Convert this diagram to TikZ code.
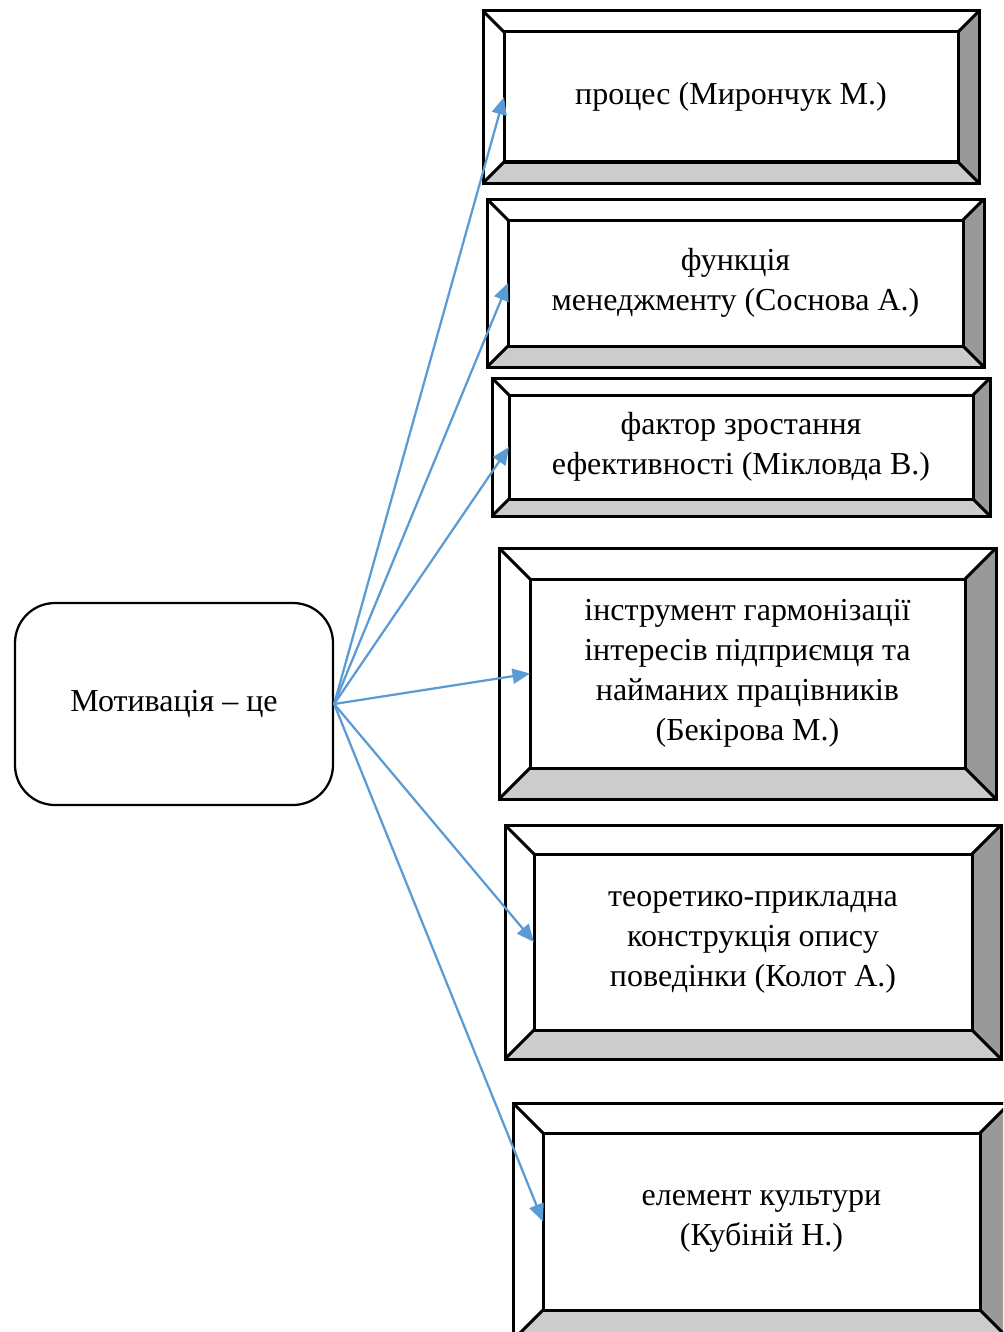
\documentclass[tikz,border=0pt]{standalone}
\usepackage{fontspec}
\setmainfont{Liberation Serif}
\usetikzlibrary{arrows.meta}

\definecolor{bevdark}{HTML}{999999}
\definecolor{bevlight}{HTML}{CCCCCC}
\definecolor{arrowblue}{HTML}{5B9BD5}

% bevelled box: name, x1, y1, x2, y2 (outer corners), bevel width, text
\newcommand\bevbox[7]{%
  \fill[white] (#2,#3) rectangle (#4,#5);
  \fill[bevdark] (#4,#3) -- (#4,#5) -- ({#4-#6},{#5-#6}) -- ({#4-#6},{#3+#6}) -- cycle;
  \fill[bevlight] (#2,#5) -- (#4,#5) -- ({#4-#6},{#5-#6}) -- ({#2+#6},{#5-#6}) -- cycle;
  \draw[boxline] (#2,#3) rectangle (#4,#5);
  \draw[boxline] (#2,#3) -- ({#2+#6},{#3+#6});
  \draw[boxline] (#4,#3) -- ({#4-#6},{#3+#6});
  \draw[boxline] (#2,#5) -- ({#2+#6},{#5-#6});
  \draw[boxline] (#4,#5) -- ({#4-#6},{#5-#6});
  \node[innerbox,
        minimum width={(#4-#2-2*#6)*0.4pt},
        minimum height={(#5-#3-2*#6)*0.4pt}]
    (#1) at ({(#2+#4)/2},{(#3+#5)/2}) {#7};
}

\begin{document}
\begin{tikzpicture}[x=0.4pt,y=-0.4pt,
  boxline/.style={line width=1.2pt,line join=miter},
  innerbox/.style={draw,line width=1.2pt,inner sep=0pt,outer sep=0pt,
    align=center,font=\fontsize{12.8pt}{16pt}\selectfont},
  mainbox/.style={draw,line width=0.9pt,rounded corners=16pt,
    minimum width=127.2pt,minimum height=80.8pt,
    font=\fontsize{12.8pt}{16pt}\selectfont},
  link/.style={draw=arrowblue,line width=0.9pt,
    -{Triangle[length=7pt,width=6pt]}}]

\useasboundingbox (0,0) rectangle (1003,1332);
\clip (0,0) rectangle (1003,1332);

\node[mainbox] (mot) at (174,704) {Мотивація – це};

\bevbox{b1}{483}{11}{979}{183}{21}{процес (Мирончук М.)}
\bevbox{b2}{487}{199}{984}{367}{21}{функція\\менеджменту (Соснова А.)}
\bevbox{b3}{492}{378}{990}{516}{17}{фактор зростання\\ефективності (Мікловда В.)}
\bevbox{b4}{499}{548}{996}{799}{31}{інструмент гармонізації\\інтересів підприємця та\\найманих працівників\\(Бекірова М.)}
\bevbox{b5}{505}{825}{1001}{1059}{29}{теоретико-прикладна\\конструкція опису\\поведінки (Колот А.)}
\bevbox{b6}{513}{1103}{1010}{1340}{30}{елемент культури\\(Кубіній Н.)}

\foreach \t in {b1,b2,b3,b4,b5,b6}
  \draw[link] (mot.east) -- (\t.west);

\end{tikzpicture}
\end{document}
